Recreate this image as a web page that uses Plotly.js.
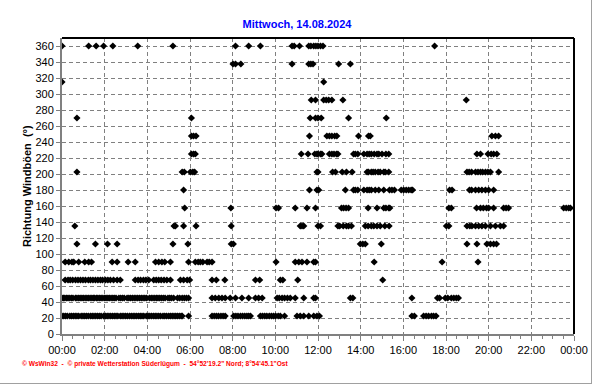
<!DOCTYPE html>
<html><head><meta charset="utf-8">
<script src="https://cdn.plot.ly/plotly-3.0.1.min.js"></script>
<style>html,body{margin:0;padding:0;background:#fff;overflow:hidden}</style>
</head><body><div id="chart" style="width:592px;height:384px"></div>
<script>
const tickHours = [0,2,4,6,8,10,12,14,16,18,20,22,24];
const tickLabels = ["00:00","02:00","04:00","06:00","08:00","10:00","12:00","14:00","16:00","18:00","20:00","22:00","00:00"];
const directions = [22.5,45,67.5,90,112.5,135,157.5,180,202.5,225,247.5,270,292.5,315,337.5,360];
// minutes of the day at which each gust direction (degrees) was logged
const m022 = [0,5,10,15,22,27,32,37,42,47,54,59,64,69,74,80,85,90,95,100,105,110,117,122,127,132,137,142,147,152,157,164,169,174,179,184,190,195,200,205,210,215,220,225,230,237,242,247,252,257,262,267,272,277,284,289,294,300,305,310,315,320,325,330,335,338,356,422,428,434,440,447,453,459,483,489,495,502,508,514,520,525,530,558,564,570,576,583,589,595,601,608,614,626,661,670,680,694,708,717,724,984,991,1017,1024,1031,1039,1045,1052];
const m045 = [0,4,8,13,17,22,27,31,38,42,47,51,56,60,65,70,74,79,84,88,92,97,101,106,110,115,120,124,129,133,138,143,147,152,160,165,170,175,183,188,193,198,203,208,213,218,223,228,233,238,246,251,256,261,266,270,275,280,285,290,298,303,308,314,325,331,338,344,350,356,422,431,441,450,459,473,488,506,525,544,553,563,605,611,619,626,634,642,656,680,708,713,811,818,984,1056,1062,1078,1085,1095,1102,1109,1115];
const m068 = [9,17,23,30,38,45,52,59,66,74,80,87,94,101,108,114,122,129,136,145,155,164,206,214,221,229,236,244,258,265,272,279,287,295,305,333,342,352,359,422,434,458,544,556,614,621,663,902];
const m090 = [9,19,28,33,47,64,75,83,141,155,186,206,263,272,281,289,305,356,375,383,389,396,408,414,422,602,656,666,675,689,708,713,878,1069,1170];
const m112 = [42,94,128,155,312,354,476,482,839,846,853,898,1139,1167,1195,1205,1214,1222];
const m135 = [36,315,319,342,377,476,670,675,680,720,727,776,781,791,800,806,814,853,861,870,877,886,895,908,920,1081,1088,1139,1147,1153,1163,1172,1181,1191,1205,1219,1233,1242];
const m158 = [345,475,602,609,656,689,713,786,792,799,806,861,886,905,911,919,922,1088,1095,1166,1177,1185,1194,1200,1214,1242,1249,1256,1411,1418,1425,1430];
const m180 = [342,696,717,722,797,820,825,832,849,858,864,870,881,891,905,921,928,935,954,961,968,975,982,986,1090,1097,1146,1152,1163,1172,1181,1191,1200,1214];
const m202 = [42,338,344,361,368,373,717,720,761,769,788,800,816,858,862,870,875,881,889,895,905,909,919,1139,1145,1152,1163,1170,1177,1183,1191,1198,1205,1228];
const m225 = [364,370,375,673,692,711,717,720,727,731,752,759,765,772,776,820,825,832,849,858,864,870,878,886,891,900,911,919,1167,1177,1198,1207,1214,1223];
const m248 = [364,370,377,696,745,752,759,767,773,834,862,867,1209,1219,1228];
const m270 = [42,364,698,713,720,729,806,912];
const m292 = [701,713,736,743,750,759,790,1137];
const m315 = [0,736];
const m338 = [481,488,503,647,694,700,706,778,811];
const m360 = [0,75,96,117,143,213,312,488,525,558,647,653,668,694,700,708,714,720,727,734,1048];
const minutesByDirection = [m022,m045,m068,m090,m112,m135,m158,m180,m202,m225,m248,m270,m292,m315,m338,m360];

const xs = [], ys = [];
directions.forEach((d, i) => {
  minutesByDirection[i].forEach(m => { xs.push(m / 60); ys.push(d); });
});

const trace = {
  type: 'scatter', mode: 'markers', x: xs, y: ys,
  marker: {symbol: 'diamond', size: 5.5, color: '#000000', line: {width: 0}},
  hoverinfo: 'skip', cliponaxis: true
};

const PL = 62, PR = 574, PT = 38, PB = 334, W = 592, H = 384;
const pw = PR - PL, ph = PB - PT;
const px = v => (v - PL) / pw;
const py = v => (PB - v) / ph;

const layout = {
  width: W, height: H,
  margin: {l: PL, r: W - PR, t: PT, b: H - PB, pad: 0},
  paper_bgcolor: '#ffffff', plot_bgcolor: '#ffffff',
  showlegend: false,
  font: {family: '"Liberation Sans", Arial, sans-serif', size: 11, color: '#000000'},
  title: {text: '<b>Mittwoch, 14.08.2024</b>', font: {size: 11, color: '#0000ff'},
          x: 297 / W, xref: 'container', xanchor: 'center',
          y: 1 - 24.5 / H, yref: 'container', yanchor: 'middle'},
  xaxis: {
    range: [0, 24], tickmode: 'array', tickvals: tickHours, ticktext: tickLabels,
    showgrid: true, gridcolor: '#808080', gridwidth: 1, griddash: '4px,3px',
    zeroline: false, showline: true, linecolor: '#808080', linewidth: 2,
    ticks: 'outside', ticklen: 5, tickwidth: 1, tickcolor: '#808080',
    minor: {tickmode: 'linear', tick0: 0, dtick: 0.5, ticks: 'outside', ticklen: 3, tickwidth: 1, tickcolor: '#808080', showgrid: false},
    tickfont: {size: 11, color: '#000000'}, fixedrange: true
  },
  yaxis: {
    range: [0, 370], tickmode: 'linear', tick0: 0, dtick: 20,
    showgrid: true, gridcolor: '#808080', gridwidth: 1, griddash: '4px,3px',
    zeroline: false, showline: true, linecolor: '#808080', linewidth: 2,
    ticks: 'outside', ticklen: 4, tickwidth: 1, tickcolor: '#808080',
    tickfont: {size: 11, color: '#000000'}, fixedrange: true
  },
  annotations: [
    {text: '<b>Richtung Windböen  (°)</b>', textangle: -90, xref: 'paper', yref: 'paper',
     x: px(27), y: py(186), xanchor: 'center', yanchor: 'middle', showarrow: false,
     font: {size: 11, color: '#000000'}},
    {text: '<b>© WsWin32  -  © private Wetterstation Süderlügum  -  54°52\'19.2" Nord; 8°54\'45.1"Ost</b>',
     xref: 'paper', yref: 'paper', x: px(20), y: py(364), xanchor: 'left', yanchor: 'middle',
     showarrow: false, font: {size: 6.6, color: '#ff0000', family: '"Liberation Sans", Arial, sans-serif'}}
  ],
  shapes: [
    {type: 'line', xref: 'paper', yref: 'paper', x0: 0, x1: 1, y0: 1, y1: 1, line: {color: '#000000', width: 2}},
    {type: 'line', xref: 'paper', yref: 'paper', x0: 1, x1: 1, y0: 0, y1: 1, line: {color: '#000000', width: 2}},
    {type: 'line', xref: 'paper', yref: 'paper', x0: px(0), x1: px(592), y0: py(383.5), y1: py(383.5), line: {color: '#a0a0a0', width: 1}},
    {type: 'line', xref: 'paper', yref: 'paper', x0: px(591.5), x1: px(591.5), y0: py(384), y1: py(0), line: {color: '#a0a0a0', width: 1}}
  ]
};

Plotly.newPlot('chart', [trace], layout, {displayModeBar: false, staticPlot: true});
</script></body></html>
